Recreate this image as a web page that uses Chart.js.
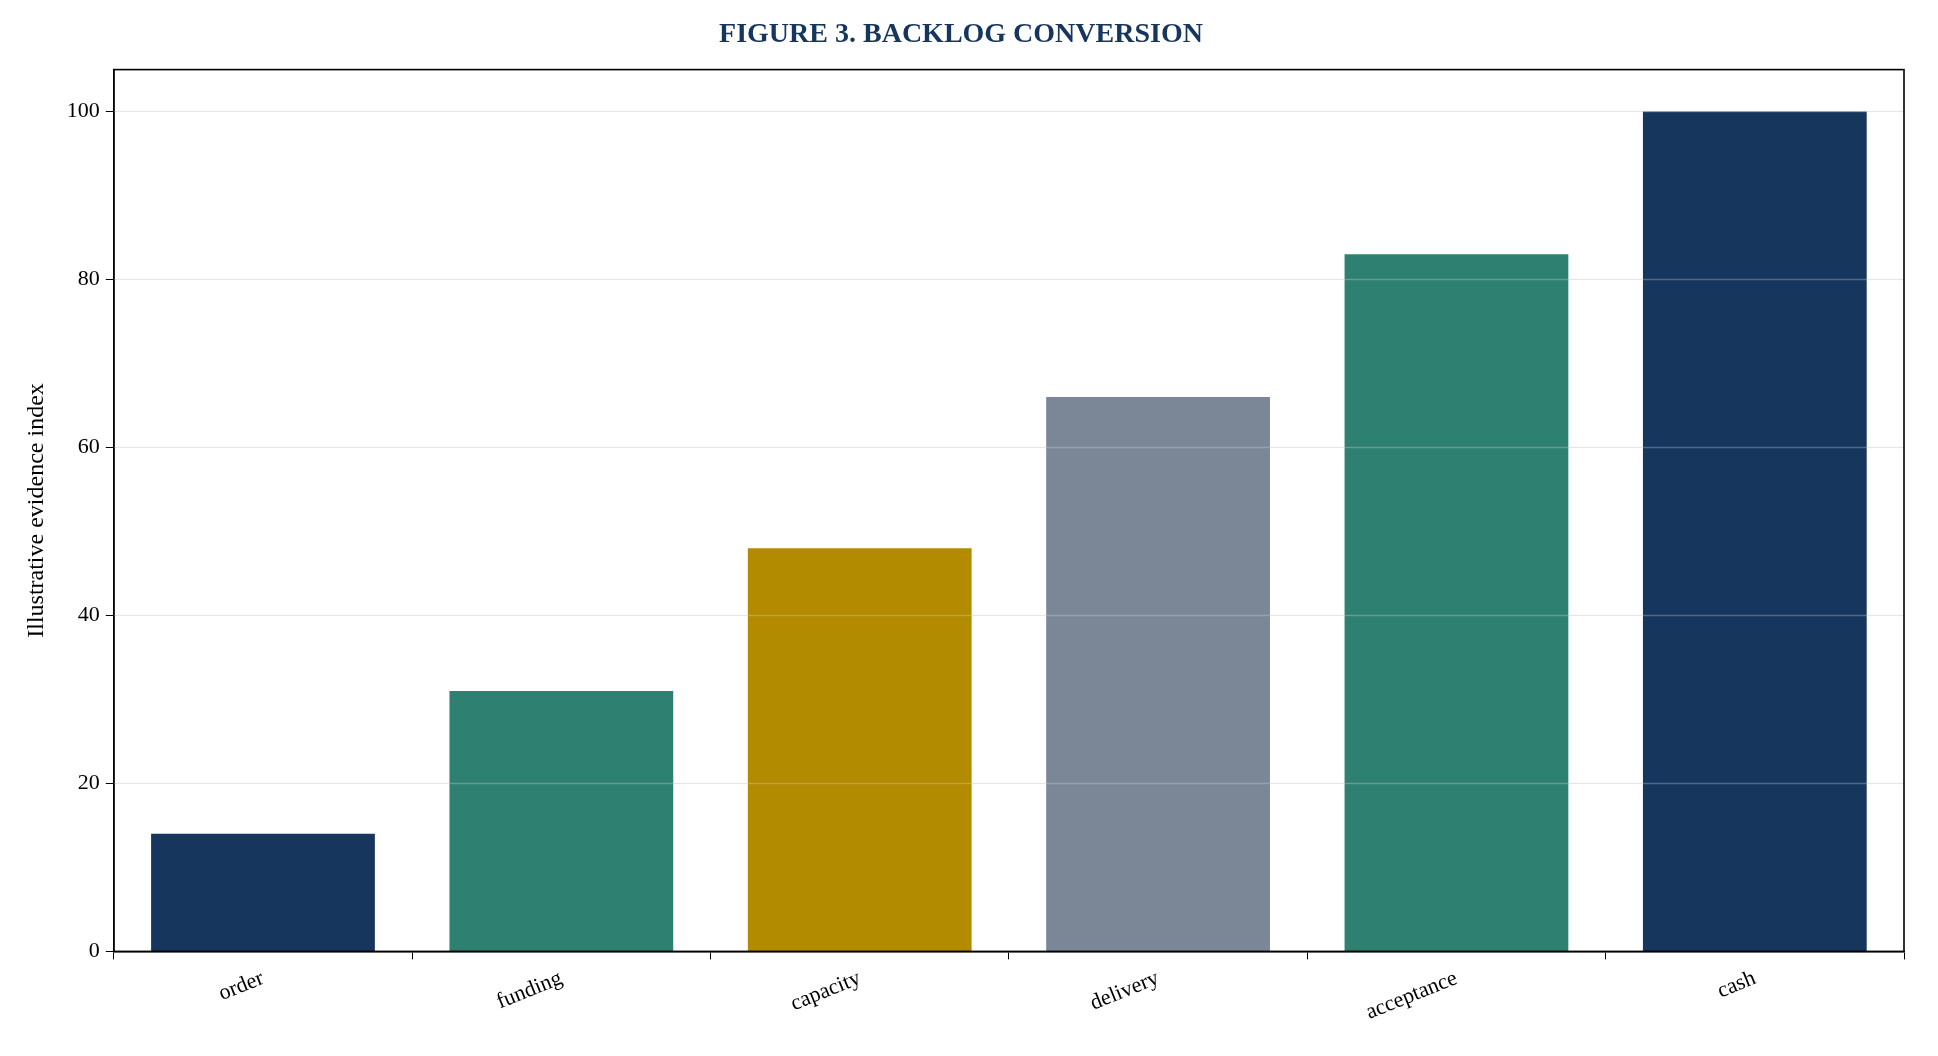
<!DOCTYPE html>
<html><head><meta charset="utf-8">
<script src="https://cdn.jsdelivr.net/npm/chart.js@4"></script>
<style>html,body{margin:0;padding:0;background:#fff}#w{width:1938px;height:1056px}</style>
</head><body><div id="w"><canvas id="c"></canvas></div>
<script>
const categories = ["order","funding","capacity","delivery","acceptance","cash"];
const values = [14,31,48,66,83,100];
const barColors = ["#17365d","#2e8070","#b38b00","#7b8796","#2e8070","#17365d"];
const yTicks = [0,20,40,60,80,100];

const frame = {id:'frame', afterDatasetsDraw(ch){const a=ch.chartArea,x=ch.ctx,y=ch.scales.y;x.save();
  x.strokeStyle='rgba(220,220,220,0.3)';x.lineWidth=1.5;
  yTicks.forEach(v=>{if(v===0)return;const py=y.getPixelForValue(v);x.beginPath();x.moveTo(a.left,py);x.lineTo(a.right,py);x.stroke();});
  x.strokeStyle='#000';x.lineWidth=1.6;x.strokeRect(a.left,a.top,a.right-a.left,a.bottom-a.top);x.restore();}};
new Chart(document.getElementById('c'),{
  type:'bar',
  data:{labels:categories,datasets:[{data:values,backgroundColor:barColors,categoryPercentage:1,barPercentage:0.75}]},
  options:{responsive:true,maintainAspectRatio:false,animation:false,
    layout:{padding:{left:18,right:34,top:6,bottom:24}},
    plugins:{legend:{display:false},tooltip:{enabled:false},
      title:{display:true,text:'FIGURE 3. BACKLOG CONVERSION',color:'#17365d',font:{family:'Liberation Serif',size:28,weight:'bold'},padding:{top:12,bottom:18}}},
    scales:{
      x:{grid:{display:true,drawOnChartArea:false,color:'#000',tickLength:8},border:{color:'#000',width:1.6},
        ticks:{color:'#000',font:{family:'Liberation Serif',size:22},minRotation:22,maxRotation:22,padding:6}},
      y:{min:0,max:105,afterBuildTicks(ax){ax.ticks=yTicks.map(v=>({value:v}));},
        grid:{color:'rgba(220,220,220,0.6)',tickColor:'#000',tickLength:8},border:{color:'#000',width:1.6},
        title:{display:true,text:'Illustrative evidence index',color:'#000',font:{family:'Liberation Serif',size:24},padding:{bottom:10}},
        ticks:{color:'#000',font:{family:'Liberation Serif',size:22},padding:6}}
    }},
  plugins:[frame]
});
</script></body></html>
